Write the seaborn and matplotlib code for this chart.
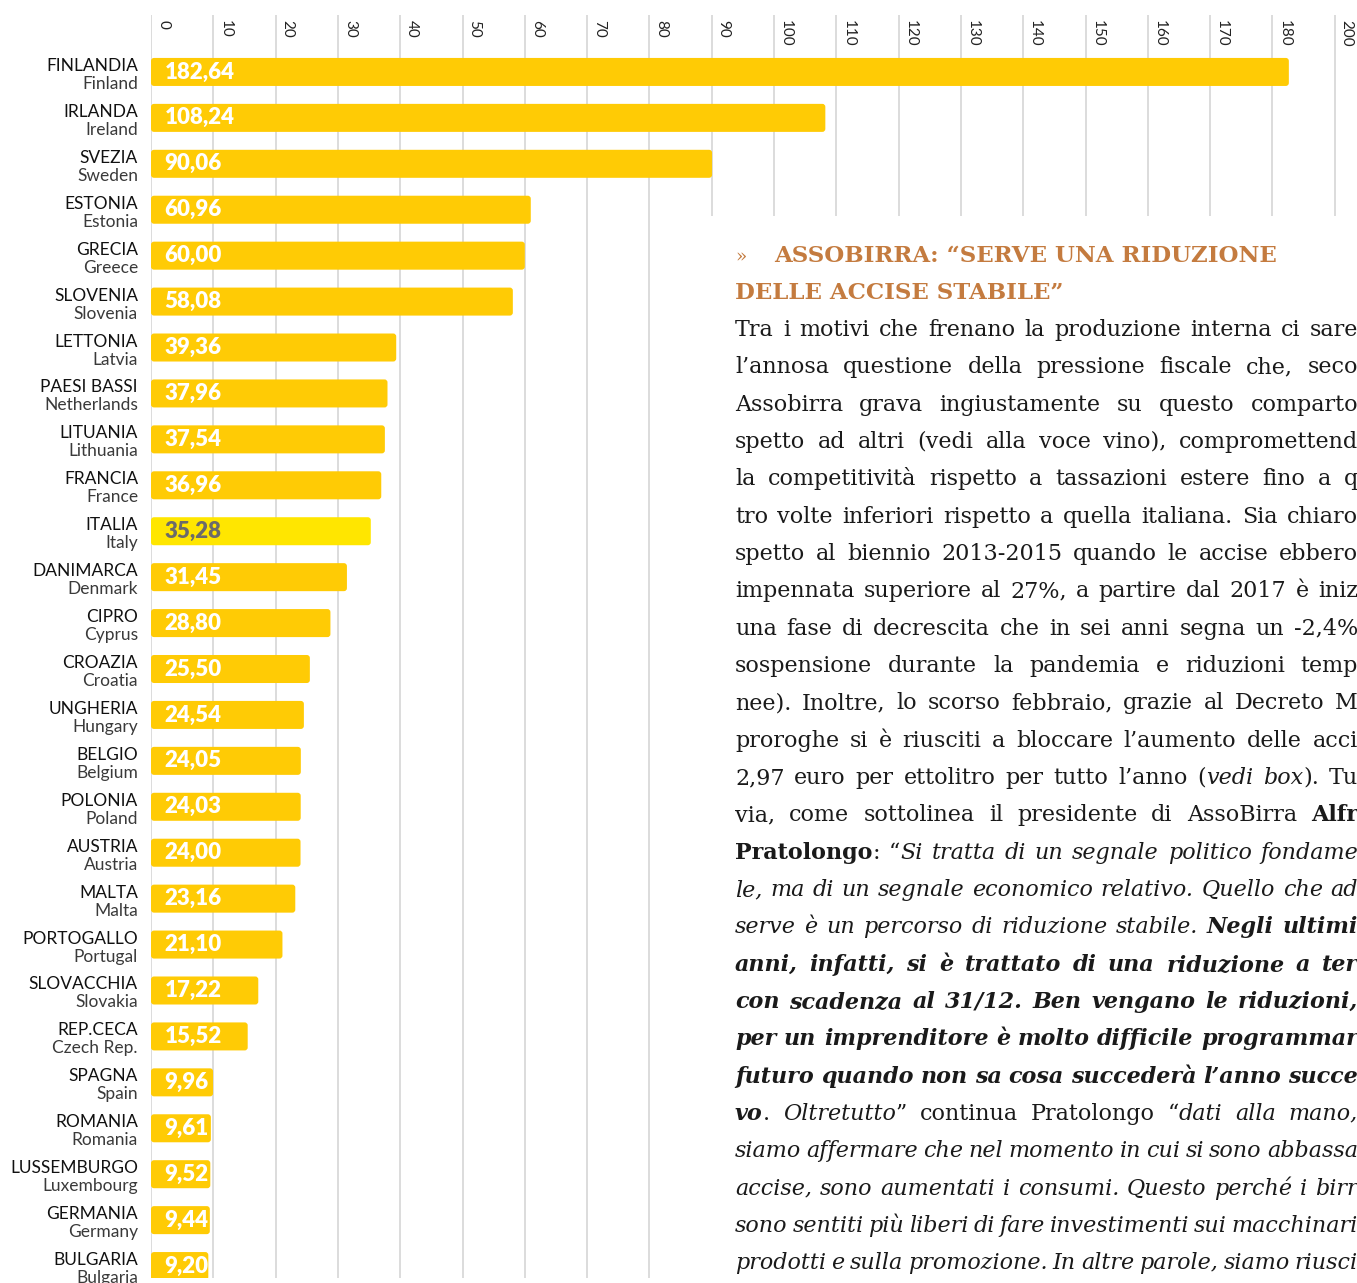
import numpy as np
import pandas as pd
import matplotlib
matplotlib.use("Agg")
import matplotlib.pyplot as plt
import matplotlib.transforms as mtransforms
from matplotlib.patches import Rectangle, FancyBboxPatch
import seaborn as sns

# dati: accise sulla birra (euro per ettolitro)
paesi_it = ["FINLANDIA", "IRLANDA", "SVEZIA", "ESTONIA", "GRECIA", "SLOVENIA",
            "LETTONIA", "PAESI BASSI", "LITUANIA", "FRANCIA", "ITALIA",
            "DANIMARCA", "CIPRO", "CROAZIA", "UNGHERIA", "BELGIO", "POLONIA",
            "AUSTRIA", "MALTA", "PORTOGALLO", "SLOVACCHIA", "REP.CECA",
            "SPAGNA", "ROMANIA", "LUSSEMBURGO", "GERMANIA", "BULGARIA"]
paesi_en = ["Finland", "Ireland", "Sweden", "Estonia", "Greece", "Slovenia",
            "Latvia", "Netherlands", "Lithuania", "France", "Italy",
            "Denmark", "Cyprus", "Croatia", "Hungary", "Belgium", "Poland",
            "Austria", "Malta", "Portugal", "Slovakia", "Czech Rep.",
            "Spain", "Romania", "Luxembourg", "Germany", "Bulgaria"]
accise = [182.64, 108.24, 90.06, 60.96, 60.00, 58.08, 39.36, 37.96, 37.54,
          36.96, 35.28, 31.45, 28.80, 25.50, 24.54, 24.05, 24.03, 24.00,
          23.16, 21.10, 17.22, 15.52, 9.96, 9.61, 9.52, 9.44, 9.20]
evidenza = "ITALIA"
tick_labels = ["0", "10", "20", "30", "40", "50", "60", "70", "80", "90",
               "100", "110", "120", "130", "140", "150", "160", "170",
               "180", "200"]

titolo = ["ASSOBIRRA: “SERVE UNA RIDUZIONE", "DELLE ACCISE STABILE”"]
testo = [
    [("Tra i motivi che frenano la produzione interna ci sare", "n")],
    [("l’annosa questione della pressione fiscale che, seco", "n")],
    [("Assobirra grava ingiustamente su questo comparto", "n")],
    [("spetto ad altri (vedi alla voce vino), compromettend", "n")],
    [("la competitività rispetto a tassazioni estere fino a q", "n")],
    [("tro volte inferiori rispetto a quella italiana. Sia chiaro", "n")],
    [("spetto al biennio 2013-2015 quando le accise ebbero", "n")],
    [("impennata superiore al 27%, a partire dal 2017 è iniz", "n")],
    [("una fase di decrescita che in sei anni segna un -2,4%", "n")],
    [("sospensione durante la pandemia e riduzioni temp", "n")],
    [("nee). Inoltre, lo scorso febbraio, grazie al Decreto M", "n")],
    [("proroghe si è riusciti a bloccare l’aumento delle acci", "n")],
    [("2,97 euro per ettolitro per tutto l’anno (", "n"), ("vedi box", "i"), ("). Tu", "n")],
    [("via, come sottolinea il presidente di AssoBirra ", "n"), ("Alfr", "b")],
    [("Pratolongo", "b"), (": “", "n"), ("Si tratta di un segnale politico fondame", "i")],
    [("le, ma di un segnale economico relativo. Quello che ad", "i")],
    [("serve è un percorso di riduzione stabile. ", "i"), ("Negli ultimi", "bi")],
    [("anni, infatti, si è trattato di una riduzione a ter", "bi")],
    [("con scadenza al 31/12. Ben vengano le riduzioni,", "bi")],
    [("per un imprenditore è molto difficile programmar", "bi")],
    [("futuro quando non sa cosa succederà l’anno succe", "bi")],
    [("vo", "bi"), (". ", "n"), ("Oltretutto", "i"), ("” continua Pratolongo “", "n"), ("dati alla mano,", "i")],
    [("siamo affermare che nel momento in cui si sono abbassa", "i")],
    [("accise, sono aumentati i consumi. Questo perché i birr", "i")],
    [("sono sentiti più liberi di fare investimenti sui macchinari", "i")],
    [("prodotti e sulla promozione. In altre parole, siamo riusci", "i")],
]

W, H, DPI = 1357, 1283, 100
PX_UNIT = 6.23
GIALLO = "#FFCB05"
GIALLO_IT = "#FFE600"
ARANCIO = "#C47B3F"

sns.set_theme(style="white")
plt.rcParams['font.family'] = ['Lato', 'DejaVu Sans']

fig = plt.figure(figsize=(W / DPI, H / DPI), dpi=DPI)
fig.patch.set_facecolor("white")
ax = fig.add_axes([151 / W, 1 - 1278 / H, (W - 151) / W, (1278 - 15) / H])

df = pd.DataFrame({"paese": paesi_it, "accise": accise})
palette = {p: (GIALLO_IT if p == evidenza else GIALLO) for p in paesi_it}
sns.barplot(data=df, x="accise", y="paese", hue="paese", palette=palette,
            legend=False, orient="h", width=0.61, saturation=1, ax=ax)

tick_pos = np.arange(len(tick_labels)) * 10
ax.set_xticks(tick_pos)
ax.set_xticklabels([])
ax.set_xlim(0, (W - 151) / PX_UNIT)
ax.set_ylim(26.26, -1.24)
ax.set_axisbelow(True)
ax.grid(axis="x", color="#dcdcdc", lw=1.4)
ax.grid(axis="y", visible=False)
ax.tick_params(length=0, labelleft=False, labelbottom=False)
ax.set_xlabel("")
ax.set_ylabel("")
sns.despine(ax=ax, left=True, bottom=True)

# angoli arrotondati: sostituisco i rettangoli di seaborn
y_px = (1278 - 15) / (26.26 + 1.24)
for bar in list(ax.patches):
    tonda = FancyBboxPatch((bar.get_x(), bar.get_y()), bar.get_width(),
                           bar.get_height(),
                           boxstyle=f"round,pad=0,rounding_size={3 / PX_UNIT}",
                           mutation_aspect=PX_UNIT / y_px,
                           facecolor=bar.get_facecolor(), edgecolor="none",
                           zorder=2)
    ax.add_patch(tonda)
    bar.set_visible(False)

# etichette asse x in alto, ruotate
off = mtransforms.ScaledTranslation(5 / DPI, -5 / DPI, fig.dpi_scale_trans)
for pos, lab in zip(tick_pos, tick_labels):
    ax.text(pos, 1, lab, transform=ax.get_xaxis_transform() + off,
            rotation=-90, ha="left", va="top", fontsize=11, color="#222222")

# valori dentro le barre
barre = [b for b in ax.patches if b.get_visible()]
for bar, v, p in zip(barre, accise, paesi_it):
    yc = bar.get_y() + bar.get_height() / 2
    ax.text(2.2, yc, f"{v:.2f}".replace(".", ","), ha="left", va="center",
            fontsize=16, fontweight="heavy",
            color=("#6b6b6b" if p == evidenza else "white"), zorder=5)

# nomi paesi (italiano + inglese)
base_tr = ax.get_yaxis_transform()
up = mtransforms.ScaledTranslation(-13 / DPI, 6 / DPI, fig.dpi_scale_trans)
down = mtransforms.ScaledTranslation(-13 / DPI, -12 / DPI, fig.dpi_scale_trans)
for y, it, en in zip(ax.get_yticks(), paesi_it, paesi_en):
    ax.text(0, y, it, transform=base_tr + up, ha="right", va="center",
            fontsize=12.5, color="#111111")
    ax.text(0, y, en, transform=base_tr + down, ha="right", va="center",
            fontsize=12.5, color="#3a3a3a")

# riquadro bianco per l'articolo
fig.add_artist(Rectangle((711 / W, 0), 1 - 711 / W, 1 - 216 / H,
                         transform=fig.transFigure, facecolor="white",
                         edgecolor="none", zorder=1))

renderer = fig.canvas.get_renderer()
stili = {"n": dict(style="normal", weight="normal"),
         "i": dict(style="italic", weight="normal"),
         "b": dict(style="normal", weight="bold"),
         "bi": dict(style="italic", weight="bold")}
SERIF = "DejaVu Serif"


def larghezza(txt, size, **kw):
    t = fig.text(0, 0, txt, fontsize=size, family=SERIF, **kw)
    w = t.get_window_extent(renderer).width
    t.remove()
    return w


def riga(runs, x0, base, x1, size, color):
    tokens = [[]]
    for txt, st in runs:
        for k, part in enumerate(txt.split(" ")):
            if k > 0:
                tokens.append([])
            if part:
                tokens[-1].append((part, st))
    tokens = [t for t in tokens if t]
    items = []
    total = 0
    for tok in tokens:
        frags = []
        for part, st in tok:
            t = fig.text(0, 1 - base / H, part, fontsize=size, family=SERIF,
                         color=color, va="baseline", ha="left", zorder=3,
                         **stili[st])
            w = t.get_window_extent(renderer).width
            frags.append((t, w))
            total += w
        items.append(frags)
    gap = (x1 - x0 - total) / max(len(items) - 1, 1)
    x = x0
    for frags in items:
        for t, w in frags:
            t.set_x(x / W)
            x += w
        x += gap


corpo = 16 * 605 / larghezza(testo[0][0][0], 16)
size_tit = 16 * 504 / larghezza(titolo[0], 16, weight="bold")

fig.text(735 / W, 1 - 262 / H, "»", fontsize=size_tit * 0.8, family=SERIF,
         color=ARANCIO, va="baseline", ha="left", zorder=3)
fig.text(774 / W, 1 - 262 / H, titolo[0], fontsize=size_tit, family=SERIF,
         weight="bold", color=ARANCIO, va="baseline", ha="left", zorder=3)
fig.text(735 / W, 1 - 299 / H, titolo[1], fontsize=size_tit, family=SERIF,
         weight="bold", color=ARANCIO, va="baseline", ha="left", zorder=3)

for i, runs in enumerate(testo):
    riga(runs, 735, 336 + 37.33 * i, 1358, corpo, "#1a1a1a")

fig.savefig("out.png", dpi=DPI)
